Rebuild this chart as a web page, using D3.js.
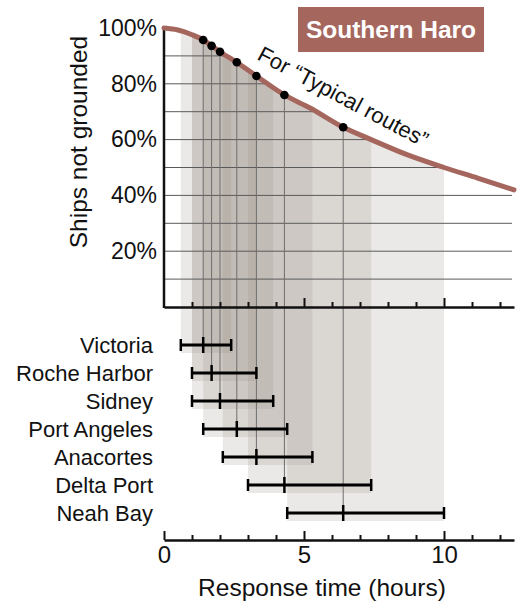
<!DOCTYPE html>
<html>
<head>
<meta charset="utf-8">
<script src="https://cdn.jsdelivr.net/npm/d3@7"></script>
<style>
  body { margin: 0; background: #fff; }
  svg text { font-family: "Liberation Sans", Arial, Helvetica, sans-serif; }
</style>
</head>
<body>
<div id="chart"></div>
<script>
// response time ranges per port (hours)
const ports = ["Victoria", "Roche Harbor", "Sidney", "Port Angeles", "Anacortes", "Delta Port", "Neah Bay"]
const lows = [0.6, 1.0, 1.0, 1.4, 2.1, 3.0, 4.4]
const medians = [1.4, 1.7, 2.0, 2.6, 3.3, 4.3, 6.4]
const highs = [2.4, 3.3, 3.9, 4.4, 5.3, 7.4, 10.0]
const medianPct = [95.7, 93.6, 91.5, 87.7, 82.8, 76.0, 64.4]

// survival curve "Typical routes"
const curveHours = [0, 0.5, 1.0, 1.4, 1.7, 2.0, 2.6, 3.3, 4.3, 5.2, 6.4, 7.4, 8.7, 10.0, 11.2, 12.5]
const curvePct = [100, 99.3, 97.6, 95.7, 93.6, 91.5, 87.7, 82.8, 76.0, 71.4, 64.4, 60.0, 54.5, 50.0, 46.2, 42.0]

const yTicks = [20, 40, 60, 80, 100]
const gridPct = [10, 20, 30, 40, 50, 60, 70, 80, 90]
const xLabels = [0, 5, 10]
const xMinor = d3.range(0, 13)

const width = 522, height = 606
const brown = "#a5665d"

const svg = d3.select("#chart").append("svg")
  .attr("width", width)
  .attr("height", height)

const x = d3.scaleLinear().domain([0, 12.5]).range([164, 514])
const y = d3.scaleLinear().domain([0, 100]).range([307, 28])
const row = d3.scalePoint().domain(ports).range([345, 513])
const xAxisBottomY = 540

const curveData = curveHours.map((h, i) => [h, curvePct[i]])

// clip: everything below the curve
svg.append("clipPath").attr("id", "under")
  .append("path")
  .attr("d", d3.area()
    .x(d => x(d[0]))
    .y0(height)
    .y1(d => y(d[1]))
    .curve(d3.curveMonotoneX)(curveData))

const under = svg.append("g").attr("clip-path", "url(#under)")

// shaded ranges
ports.forEach((p, i) => {
  under.append("rect")
    .attr("x", x(lows[i]))
    .attr("y", 0)
    .attr("width", x(highs[i]) - x(lows[i]))
    .attr("height", row(p) + 8)
    .attr("fill", "rgb(150,140,130)")
    .attr("fill-opacity", 0.19)
})

// horizontal gridlines
under.append("g").selectAll("line")
  .data(gridPct)
  .join("line")
  .attr("x1", x(0)).attr("x2", x(12.5) - 2)
  .attr("y1", d => y(d)).attr("y2", d => y(d))
  .attr("stroke", "#5a5a5a")
  .attr("stroke-width", 1)

// median drop lines
ports.forEach((p, i) => {
  svg.append("line")
    .attr("x1", x(medians[i])).attr("x2", x(medians[i]))
    .attr("y1", y(medianPct[i])).attr("y2", row(p))
    .attr("stroke", "#6e6e6e")
    .attr("stroke-width", 1)
})

// y axis
const yAxis = svg.append("g")
  .attr("transform", `translate(${x(0)},0)`)
  .call(d3.axisLeft(y).tickValues(yTicks).tickSize(0).tickPadding(7)
    .tickFormat(d => d + "%"))
yAxis.select(".domain").remove()
yAxis.selectAll("text").attr("font-size", 23).attr("fill", "#111")
svg.append("line")
  .attr("x1", x(0)).attr("x2", x(0))
  .attr("y1", y(100)).attr("y2", y(0) + 1)
  .attr("stroke", "#111").attr("stroke-width", 2.5)

svg.append("text")
  .attr("transform", `translate(87,142) rotate(-90)`)
  .attr("text-anchor", "middle")
  .attr("font-size", 24.5)
  .attr("fill", "#111")
  .text("Ships not grounded")

// top x axis (ticks only)
function styleTicks(g) {
  g.select(".domain").attr("stroke", "#111").attr("stroke-width", 2.5)
  g.selectAll(".tick line")
    .attr("stroke", "#111").attr("stroke-width", 2)
    .attr("y2", d => xLabels.includes(d) ? -9 : -5)
}
const topAxis = svg.append("g")
  .attr("transform", `translate(0,${y(0)})`)
  .call(d3.axisBottom(x).tickValues(xMinor.filter(d => d > 0)).tickSize(-5).tickSizeOuter(0).tickFormat(""))
topAxis.call(styleTicks)

// curve
svg.append("path")
  .datum(curveData)
  .attr("d", d3.line().x(d => x(d[0])).y(d => y(d[1])).curve(d3.curveMonotoneX))
  .attr("fill", "none")
  .attr("stroke", brown)
  .attr("stroke-width", 5)
  .attr("stroke-linecap", "round")

// dots
svg.append("g").selectAll("circle")
  .data(medians)
  .join("circle")
  .attr("cx", d => x(d))
  .attr("cy", (d, i) => y(medianPct[i]))
  .attr("r", 4.3)
  .attr("fill", "#000")

// curve label
svg.append("text")
  .attr("transform", "translate(256,59) rotate(28)")
  .attr("font-size", 22)
  .attr("fill", "#111")
  .text("For \u201cTypical routes\u201d")

// title box
svg.append("rect")
  .attr("x", 298).attr("y", 7)
  .attr("width", 186).attr("height", 45)
  .attr("fill", brown)
svg.append("text")
  .attr("x", 391).attr("y", 38)
  .attr("text-anchor", "middle")
  .attr("font-size", 24.5)
  .attr("font-weight", "bold")
  .attr("fill", "#fff")
  .text("Southern Haro")

// range bars
const bars = svg.append("g")
ports.forEach((p, i) => {
  const ry = row(p)
  bars.append("line")
    .attr("x1", x(lows[i])).attr("x2", x(highs[i]))
    .attr("y1", ry).attr("y2", ry)
    .attr("stroke", "#000").attr("stroke-width", 3)
  ;[lows[i], highs[i]].forEach(v => {
    bars.append("line")
      .attr("x1", x(v)).attr("x2", x(v))
      .attr("y1", ry - 6).attr("y2", ry + 6)
      .attr("stroke", "#000").attr("stroke-width", 2.5)
  })
  bars.append("line")
    .attr("x1", x(medians[i])).attr("x2", x(medians[i]))
    .attr("y1", ry - 8).attr("y2", ry + 8)
    .attr("stroke", "#000").attr("stroke-width", 2.5)
  bars.append("text")
    .attr("x", 153).attr("y", ry)
    .attr("dy", "0.35em")
    .attr("text-anchor", "end")
    .attr("font-size", 22)
    .attr("fill", "#111")
    .text(p)
})

// bottom x axis
const bottomAxis = svg.append("g")
  .attr("transform", `translate(0,${xAxisBottomY})`)
  .call(d3.axisBottom(x).tickValues(xMinor).tickSize(-5).tickSizeOuter(0).tickPadding(6)
    .tickFormat(d => xLabels.includes(d) ? d : ""))
bottomAxis.call(styleTicks)
bottomAxis.selectAll("text").attr("font-size", 24).attr("fill", "#111")

svg.append("text")
  .attr("x", 322).attr("y", 596)
  .attr("text-anchor", "middle")
  .attr("font-size", 24.5)
  .attr("fill", "#111")
  .text("Response time (hours)")
</script>
</body>
</html>
